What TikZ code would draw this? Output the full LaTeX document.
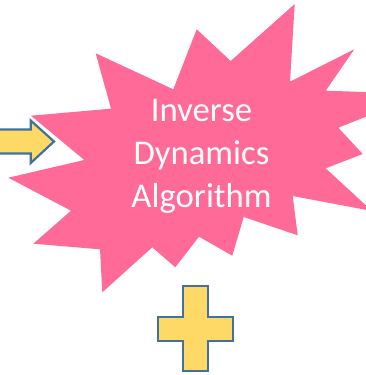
\documentclass[tikz,border=0pt]{standalone}
\usepackage{fontspec}
\setmainfont{Carlito}
\definecolor{starpink}{HTML}{FF6A98}
\definecolor{shapefill}{HTML}{FFD966}
\definecolor{shapeline}{HTML}{41719C}
\begin{document}
\begin{tikzpicture}[x=1pt,y=-1pt,
  label/.style={text=white,font=\fontsize{34.7}{42}\selectfont,anchor=base,inner sep=0pt},
  yellowshape/.style={fill=shapefill,draw=shapeline,line width=2.2pt,line join=miter}]
\useasboundingbox (0,0) rectangle (366,375);
\clip (0,0) rectangle (366,375);
% star burst
\fill[starpink] (294.7,4) -- (290,81.7) -- (354.3,49.3) -- (325.7,90.7) -- (423,94)
  -- (338.3,127.7) -- (362.7,154) -- (325.7,168.3) -- (372,211) -- (292.7,196)
  -- (297.7,235.3) -- (243.7,217) -- (232.3,255.7) -- (199,236.7) -- (175.3,267.3)
  -- (152.3,247.3) -- (102.3,292.3) -- (100,249.3) -- (33.3,243.7) -- (71,210.7)
  -- (8.3,177.7) -- (84.3,160) -- (31,115.7) -- (111,108.7) -- (95.7,53.3)
  -- (173.3,89.3) -- (196.7,29.3) -- (230.7,61) -- cycle;
% arrow
\coordinate (arrowtip) at (54,141.5);
\draw[white,line width=5pt,line join=miter] (-5,129.5) -- (30.7,129.5) -- (30.7,120.5) -- (arrowtip) -- (30.7,163) -- (30.7,153.5) -- (-5,153.5);
\draw[yellowshape] (-5,129.5) -- (30.7,129.5) -- (30.7,120.5) -- (arrowtip) -- (30.7,163) -- (30.7,153.5) -- (-5,153.5) -- cycle;
% plus
\draw[yellowshape] (183.3,286) -- (208.3,286) -- (208.3,316.7) -- (233.3,316.7) -- (233.3,341)
  -- (208.3,341) -- (208.3,370.7) -- (183.3,370.7) -- (183.3,341) -- (158.3,341)
  -- (158.3,316.7) -- (183.3,316.7) -- cycle;
% text
\node[label] (l1) at (201.5,121.7) {Inverse};
\node[label] (l2) at (201.5,164.2) {Dynamics};
\node[label] (l3) at (201.5,207.3) {Algorithm};
\end{tikzpicture}
\end{document}
